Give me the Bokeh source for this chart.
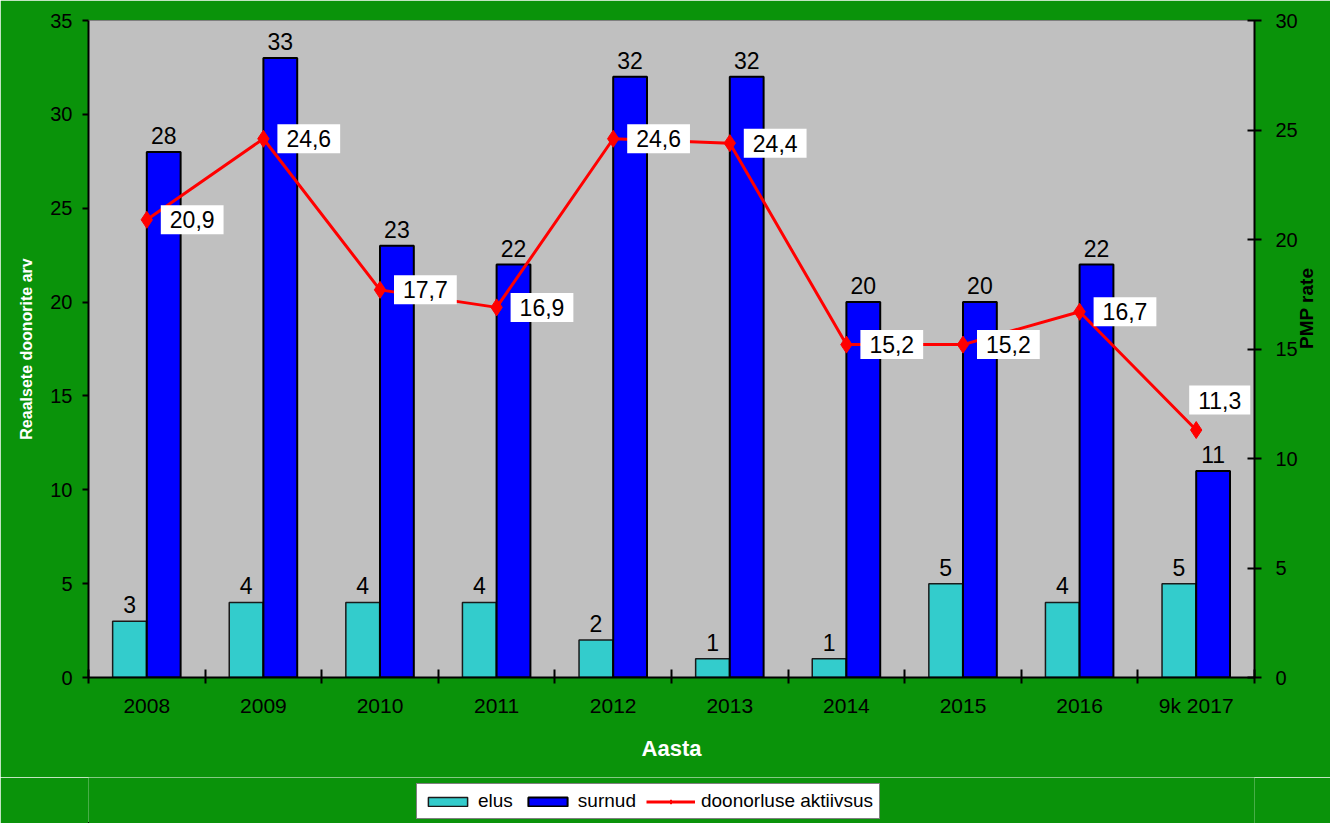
import math
from bokeh.plotting import figure
from bokeh.layouts import column
from bokeh.models import (ColumnDataSource, LinearAxis, Range1d, FixedTicker, LabelSet, Label,
                          Legend, LegendItem)
from bokeh.core.properties import value
from bokeh.embed import file_html
from bokeh.resources import INLINE
import numpy as np

years = ["2008", "2009", "2010", "2011", "2012", "2013", "2014", "2015", "2016", "9k 2017"]
elus = [3, 4, 4, 4, 2, 1, 1, 5, 4, 5]
surnud = [28, 33, 23, 22, 32, 32, 20, 20, 22, 11]
pmp = [20.9, 24.6, 17.7, 16.9, 24.6, 24.4, 15.2, 15.2, 16.7, 11.3]

FONT = "Liberation Sans"
GREEN = "#0a930a"

n = len(years)
xc = np.arange(n) + 0.5
src = ColumnDataSource(dict(
    x=xc,
    xe=xc - 0.148,
    xs=xc + 0.145,
    elus=elus,
    surnud=surnud,
    pmp=pmp,
    elus_t=[str(v) for v in elus],
    surnud_t=[str(v) for v in surnud],
))

p = figure(width=1330, height=777, output_backend="svg", toolbar_location=None,
           x_range=Range1d(0, n), y_range=Range1d(0, 35),
           min_border_left=88, min_border_right=74, min_border_top=20, min_border_bottom=100)
p.background_fill_color = "#c0c0c0"
p.border_fill_color = GREEN
p.outline_line_color = "#808080"
p.outline_line_width = 1
p.grid.visible = False

p.extra_y_ranges = {"pmp": Range1d(0, 30)}

# axes
xa = p.xaxis[0]
xa.ticker = FixedTicker(ticks=list(xc), minor_ticks=list(range(n + 1)))
xa.major_label_overrides = {float(x): y for x, y in zip(xc, years)}
xa.major_tick_out = 0
xa.major_tick_in = 0
xa.minor_tick_out = 6
xa.minor_tick_in = 8
xa.minor_tick_line_color = "black"
xa.minor_tick_line_width = 2
xa.axis_line_width = 2
xa.axis_line_color = "black"
xa.major_label_text_font = FONT
xa.major_label_text_font_size = "21px"
xa.major_label_text_color = "black"
xa.major_label_standoff = 10
xa.axis_label = "Aasta"
xa.axis_label_text_font = FONT
xa.axis_label_text_font_style = "bold"
xa.axis_label_text_font_size = "22px"
xa.axis_label_text_color = "white"
xa.axis_label_standoff = 16

ya = p.yaxis[0]
ya.ticker = FixedTicker(ticks=[0, 5, 10, 15, 20, 25, 30, 35])
ya.minor_tick_line_color = None
ya.major_tick_out = 6
ya.major_tick_in = 0
ya.major_tick_line_width = 2
ya.major_tick_line_color = "black"
ya.axis_line_width = 2
ya.major_label_text_font = FONT
ya.major_label_text_font_size = "20px"
ya.major_label_text_color = "black"
ya.major_label_standoff = 10
ya.axis_label = "Reaalsete doonorite arv"
ya.axis_label_text_font = FONT
ya.axis_label_text_font_style = "bold"
ya.axis_label_text_font_size = "16px"
ya.axis_label_text_color = "white"
ya.axis_label_standoff = 12

ra = LinearAxis(y_range_name="pmp", ticker=FixedTicker(ticks=[0, 5, 10, 15, 20, 25, 30]))
ra.minor_tick_line_color = None
ra.major_tick_out = 7
ra.major_tick_in = 7
ra.major_tick_line_width = 2
ra.major_tick_line_color = "black"
ra.axis_line_width = 2
ra.major_label_text_font = FONT
ra.major_label_text_font_size = "20px"
ra.major_label_text_color = "black"
ra.major_label_standoff = 14
ra.axis_label = "PMP rate"
ra.axis_label_text_font = FONT
ra.axis_label_text_font_style = "bold"
ra.axis_label_text_font_size = "19px"
ra.axis_label_text_color = "black"
ra.axis_label_standoff = 6
try:
    ra.axis_label_orientation = math.pi / 2
except Exception:
    pass
p.add_layout(ra, "right")

# bars
p.vbar(x="xe", top="elus", width=0.29, bottom=0, source=src,
       fill_color="#33cccc", line_color="#1a1a1a", line_width=1.5)
p.vbar(x="xs", top="surnud", width=0.29, bottom=0, source=src,
       fill_color="#0000ff", line_color="black", line_width=2)

# line
p.line(x="x", y="pmp", source=src, y_range_name="pmp", line_color="#ff0000", line_width=3)
p.scatter(x="x", y="pmp", source=src, y_range_name="pmp", marker="diamond",
          size=17, fill_color="#ff0000", line_color="#ff0000")

# value labels
p.add_layout(LabelSet(x="xe", y="elus", text="elus_t", source=src, text_align="center",
                      text_baseline="bottom", y_offset=8, text_font=value(FONT),
                      text_font_size="23px", text_color="black"))
p.add_layout(LabelSet(x="xs", y="surnud", text="surnud_t", source=src, text_align="center",
                      text_baseline="bottom", y_offset=8, text_font=value(FONT),
                      text_font_size="23px", text_color="black"))

for i, (x, v) in enumerate(zip(xc, pmp)):
    last = i == n - 1
    p.add_layout(Label(x=float(x), y=v, y_range_name="pmp",
                       text=f"{v:.1f}".replace(".", ","),
                       text_align="left", text_baseline="middle",
                       x_offset=-7 if last else 14, y_offset=30 if last else 0,
                       text_font=FONT, text_font_size="23px", text_color="black",
                       background_fill_color="white",
                       padding=dict(left=9, right=9, top=6, bottom=6)))

# legend strip below the chart (glyphs kept outside its visible ranges)
lf = figure(width=1330, height=46, output_backend="svg", toolbar_location=None,
            x_range=Range1d(100, 101), y_range=Range1d(100, 101),
            x_axis_type=None, y_axis_type=None, min_border=0)
lf.background_fill_color = GREEN
lf.border_fill_color = GREEN
lf.outline_line_color = None
lf.grid.visible = False
l_elus = lf.vbar(x="xe", top="elus", width=0.29, bottom=0, source=src,
                 fill_color="#33cccc", line_color="#1a1a1a", line_width=1.5)
l_surn = lf.vbar(x="xs", top="surnud", width=0.29, bottom=0, source=src,
                 fill_color="#0000ff", line_color="black", line_width=2)
l_line = lf.line(x="x", y="pmp", source=src, line_color="#ff0000", line_width=3)
l_mark = lf.scatter(x="x", y="pmp", source=src, marker="diamond", size=13,
                    fill_color="#ff0000", line_color="#ff0000")

legend = Legend(items=[
    LegendItem(label="elus", renderers=[l_elus]),
    LegendItem(label="surnud", renderers=[l_surn]),
    LegendItem(label="doonorluse aktiivsus", renderers=[l_line, l_mark]),
], orientation="horizontal", location=(328, 4))
legend.label_text_font = FONT
legend.label_text_font_size = "19px"
legend.label_text_color = "black"
legend.glyph_width = 49
legend.glyph_height = 11
legend.label_standoff = 6
legend.spacing = 10
legend.padding = 6
legend.margin = 0
legend.border_line_color = "black"
legend.border_line_width = 1
legend.background_fill_color = "white"
legend.background_fill_alpha = 1
lf.add_layout(legend, "center")

layout = column(p, lf, spacing=0)
open("out.html", "w").write(file_html(layout, INLINE))
